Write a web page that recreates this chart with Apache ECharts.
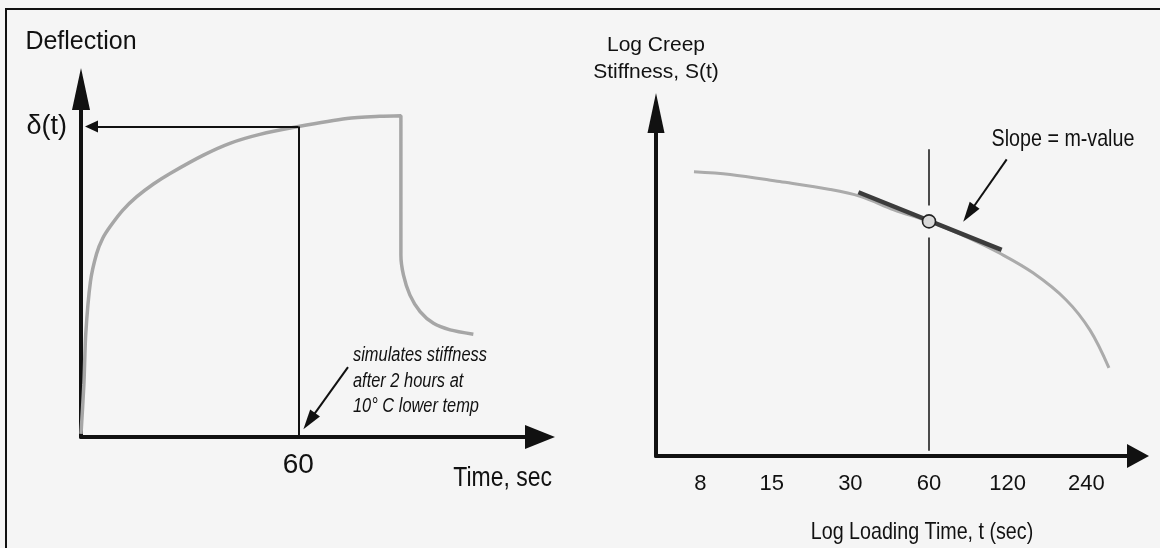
<!DOCTYPE html>
<html>
<head>
<meta charset="utf-8">
<title>Creep deflection and m-value</title>
<script src="https://cdn.jsdelivr.net/npm/echarts@6/dist/echarts.min.js"></script>
<style>
  html, body { margin: 0; padding: 0; background: #f5f5f5; }
  #chart { width: 1160px; height: 548px; }
</style>
</head>
<body>
<div id="chart"></div>
<script>
// left panel: deflection under constant load (sec, relative deflection)
const creepTime = [0, 0.8, 1.3, 2.6, 4.3, 6, 8, 11.5, 15.4, 20, 24.6, 33.8, 41.1, 49.1, 60, 73.4, 82.5, 88.3, 88.3, 89, 90.8, 93.6, 97.3, 101.9, 108.3];
const creepDefl = [0.01, 0.17, 0.33, 0.5, 0.59, 0.64, 0.677, 0.73, 0.774, 0.815, 0.849, 0.908, 0.946, 0.974, 1.0, 1.026, 1.033, 1.035, 0.586, 0.522, 0.457, 0.404, 0.366, 0.345, 0.331];
const timeTicks = [60];

// right panel: log stiffness vs log loading time
const logTimeTicks = [8, 15, 30, 60, 120, 240];
const stiffTime = [7.56, 10.4, 16.1, 25.1, 32.7, 44, 60, 85, 112, 150, 201, 248, 293];
const stiffLog = [0.829, 0.821, 0.8, 0.777, 0.757, 0.718, 0.684, 0.636, 0.591, 0.534, 0.455, 0.367, 0.257];
const tangentTime = [32.2, 113.8];
const tangentStiff = [0.769, 0.601];
const slopeTime = [60];
const slopeStiff = [0.684];

const FONT = '"Liberation Sans", Arial, sans-serif';
const INK = '#111';
const NARROW = 0.82; // the scan uses a condensed sans face

const chart = echarts.init(document.getElementById('chart'));

function arrowAxisLine(size) {
  return {
    show: true,
    symbol: ['none', 'triangle'],
    symbolSize: size,
    lineStyle: { color: INK, width: 4 }
  };
}

function plainLine(color, width) {
  return { type: 'solid', color: color, width: width };
}

function note(x, y, text, style) {
  return {
    type: 'text',
    x: x,
    y: y,
    scaleX: NARROW,
    silent: true,
    style: Object.assign({ text: text, fontFamily: FONT, fill: INK }, style)
  };
}

chart.setOption({
  backgroundColor: '#f5f5f5',
  animation: false,
  textStyle: { fontFamily: FONT, color: INK },
  grid: [
    { left: 81, top: 89, width: 459, height: 348 },
    { left: 656, top: 113, width: 482, height: 343 }
  ],
  xAxis: [
    {
      gridIndex: 0,
      type: 'value',
      min: 0,
      max: 126.7,
      interval: 60,
      axisLine: arrowAxisLine([24, 30]),
      axisTick: { show: false },
      splitLine: { show: false },
      axisLabel: {
        margin: 14,
        fontSize: 28,
        color: INK,
        fontFamily: FONT,
        formatter: (v) => (timeTicks.indexOf(v) >= 0 ? String(v) : '')
      }
    },
    {
      gridIndex: 1,
      type: 'log',
      logBase: 2,
      min: 5.41,
      max: 378.5,
      axisLine: arrowAxisLine([24, 22]),
      axisTick: { show: false },
      minorTick: { show: false },
      splitLine: { show: false },
      axisLabel: {
        margin: 17,
        fontSize: 22,
        color: INK,
        fontFamily: FONT,
        customValues: logTimeTicks,
        formatter: (v) => String(Math.round(v))
      }
    }
  ],
  yAxis: [
    {
      gridIndex: 0,
      type: 'value',
      min: 0,
      max: 1.1208,
      interval: 1,
      name: 'Deflection',
      nameLocation: 'end',
      nameGap: 47,
      nameTextStyle: { fontSize: 25, color: INK, fontFamily: FONT, align: 'center', verticalAlign: 'middle' },
      axisLine: arrowAxisLine([18, 42]),
      axisTick: { show: false },
      splitLine: { show: false },
      axisLabel: {
        margin: 14,
        fontSize: 27,
        color: INK,
        fontFamily: FONT,
        formatter: (v) => (v === 1 ? 'δ(t)' : '')
      }
    },
    {
      gridIndex: 1,
      type: 'value',
      min: 0,
      max: 1,
      name: 'Log Creep\nStiffness, S(t)',
      nameLocation: 'end',
      nameGap: 54,
      nameTextStyle: { fontSize: 21, lineHeight: 27, color: INK, fontFamily: FONT, align: 'center', verticalAlign: 'middle' },
      axisLine: arrowAxisLine([17, 40]),
      axisTick: { show: false },
      splitLine: { show: false },
      axisLabel: { show: false }
    }
  ],
  series: [
    {
      name: 'deflection',
      type: 'line',
      xAxisIndex: 0,
      yAxisIndex: 0,
      data: creepTime.map((t, i) => [t, creepDefl[i]]),
      showSymbol: false,
      symbol: 'none',
      smooth: 0.25,
      silent: true,
      lineStyle: { color: '#a6a6a6', width: 3.5 },
      z: 3,
      markLine: {
        silent: true,
        symbol: ['none', 'triangle'],
        symbolSize: [12, 13],
        label: { show: false },
        lineStyle: plainLine(INK, 2),
        data: [
          [{ coord: [60, 1], symbol: 'none' }, { coord: [2.9, 1] }],
          [{ coord: [60, 0], symbol: 'none' }, { coord: [60, 1], symbol: 'none' }],
          [{ coord: [73.7, 0.225], symbol: 'none' }, { coord: [63.0, 0.051], symbolSize: [12, 20] }]
        ]
      }
    },
    {
      name: 'stiffness',
      type: 'line',
      xAxisIndex: 1,
      yAxisIndex: 1,
      data: stiffTime.map((t, i) => [t, stiffLog[i]]),
      showSymbol: false,
      symbol: 'none',
      smooth: 0.35,
      silent: true,
      lineStyle: { color: '#ababab', width: 3 },
      z: 3,
      markLine: {
        silent: true,
        symbol: ['none', 'none'],
        label: { show: false },
        lineStyle: plainLine(INK, 1.5),
        data: [
          [{ coord: [60, 0.894] }, { coord: [60, 0.73] }],
          [{ coord: [60, 0.637] }, { coord: [60, 0.015] }],
          [{ coord: [119, 0.865], lineStyle: plainLine(INK, 2) },
           { coord: [85.3, 0.707], symbol: 'triangle', symbolSize: [12, 20] }]
        ]
      }
    },
    {
      name: 'tangent',
      type: 'line',
      xAxisIndex: 1,
      yAxisIndex: 1,
      data: tangentTime.map((t, i) => [t, tangentStiff[i]]),
      showSymbol: false,
      symbol: 'none',
      silent: true,
      lineStyle: { color: '#3c3c3c', width: 4.5 },
      z: 4
    },
    {
      name: 'slope point',
      type: 'scatter',
      xAxisIndex: 1,
      yAxisIndex: 1,
      data: slopeTime.map((t, i) => [t, slopeStiff[i]]),
      symbol: 'circle',
      symbolSize: 13,
      silent: true,
      itemStyle: { color: '#d9d9d9', borderColor: '#222', borderWidth: 1.6, opacity: 1 },
      z: 6
    }
  ],
  graphic: [
    {
      type: 'polyline',
      silent: true,
      shape: { points: [[6, 600], [6, 9], [1200, 9]] },
      style: { stroke: INK, lineWidth: 2, fill: null }
    },
    note(552, 478, 'Time, sec', { fontSize: 28, align: 'right', verticalAlign: 'middle' }),
    note(353, 343, 'simulates stiffness\nafter 2 hours at\n10° C lower temp', {
      fontSize: 20, fontStyle: 'italic', lineHeight: 25.5, align: 'left', verticalAlign: 'top'
    }),
    note(1063, 139, 'Slope = m-value', { fontSize: 24, align: 'center', verticalAlign: 'middle' }),
    note(922, 532, 'Log Loading Time, t (sec)', { fontSize: 24, align: 'center', verticalAlign: 'middle' })
  ]
});
</script>
</body>
</html>
